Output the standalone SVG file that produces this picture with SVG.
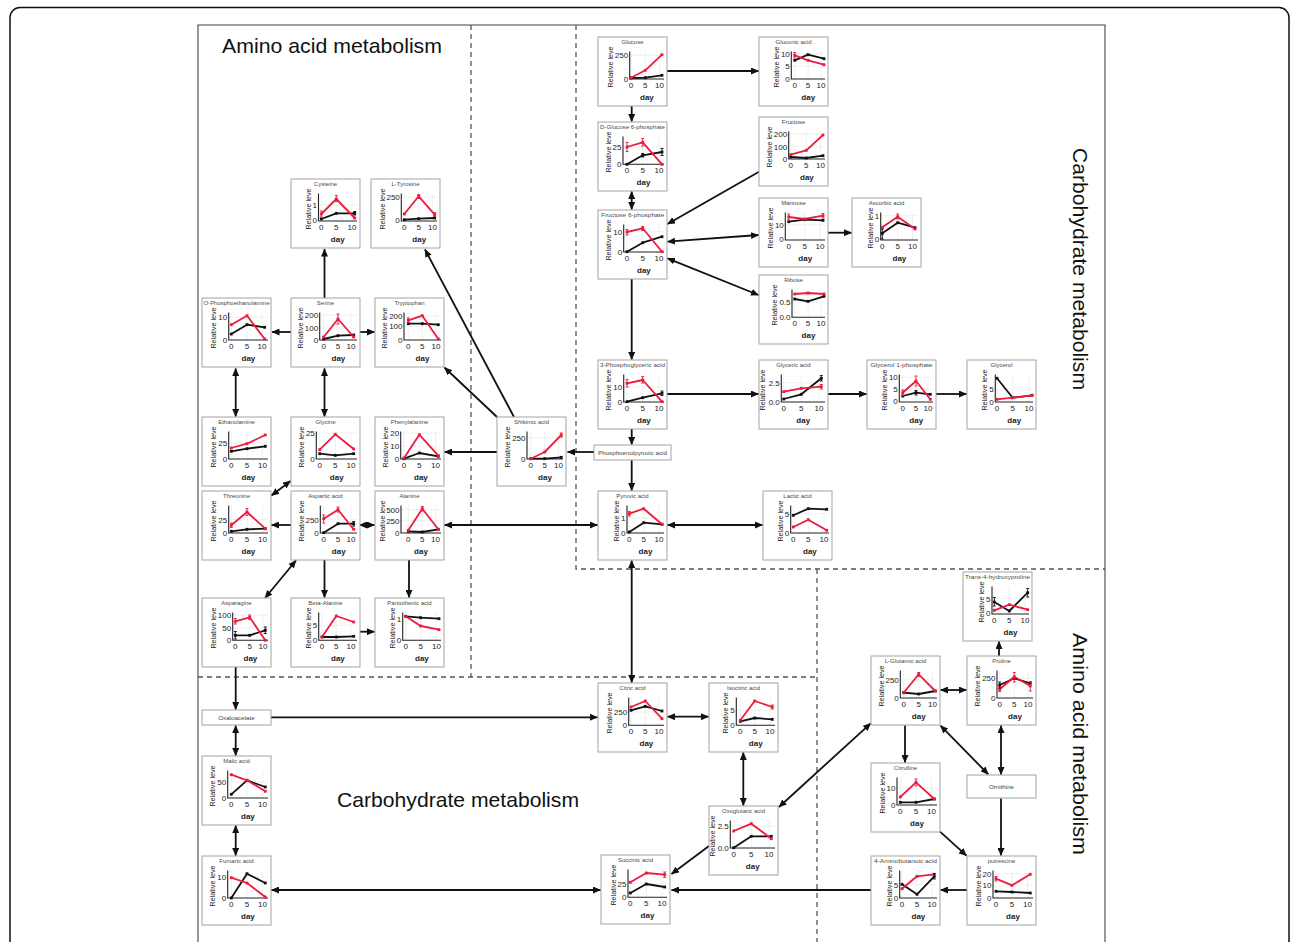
<svg xmlns="http://www.w3.org/2000/svg" width="1292" height="942" viewBox="0 0 1292 942">
<style>
.box{fill:#fff;stroke:#a3a3a3;stroke-width:1}
.t{font-family:"Liberation Sans",Arial,sans-serif;font-size:6px;fill:#4a4a4a;text-anchor:middle}
.yl{font-family:"Liberation Sans",Arial,sans-serif;font-size:7.2px;fill:#222;text-anchor:middle}
.tk{font-family:"Liberation Sans",Arial,sans-serif;font-size:8px;fill:#222}
.tx{text-anchor:middle}
.ty{text-anchor:end}
.dl{font-family:"Liberation Sans",Arial,sans-serif;font-size:8px;font-weight:bold;fill:#222;text-anchor:middle}
.ax{fill:none;stroke:#222;stroke-width:1.1}
.gr{fill:none;stroke:#ececec;stroke-width:0.8}
.r{fill:none;stroke:#ee1b3e;stroke-width:1.8;stroke-linejoin:round;marker-start:url(#pr);marker-mid:url(#pr);marker-end:url(#pr)}
.k{fill:none;stroke:#111;stroke-width:1.8;stroke-linejoin:round;marker-start:url(#pk);marker-mid:url(#pk);marker-end:url(#pk)}
.er{fill:none;stroke:#ee1b3e;stroke-width:0.9}
.ek{fill:none;stroke:#111;stroke-width:0.9}
.c{fill:none;stroke:#111;stroke-width:1.8}
.a1{marker-end:url(#ah)}
.a2{marker-start:url(#ah);marker-end:url(#ah)}
.dash{fill:none;stroke:#555;stroke-width:1.3;stroke-dasharray:5 4}
.big{font-family:"Liberation Sans",Arial,sans-serif;font-size:21px;fill:#111}
.lbl{font-family:"Liberation Sans",Arial,sans-serif;font-size:6.2px;fill:#444;text-anchor:middle}
</style>
<defs>
<marker id="pr" markerWidth="4" markerHeight="4" refX="2" refY="2" markerUnits="userSpaceOnUse"><rect x="0.6" y="0.6" width="2.8" height="2.8" fill="#ee1b3e"/></marker>
<marker id="pk" markerWidth="4" markerHeight="4" refX="2" refY="2" markerUnits="userSpaceOnUse"><rect x="0.6" y="0.6" width="2.8" height="2.8" fill="#111"/></marker>
<marker id="ah" markerWidth="8" markerHeight="7" refX="7.5" refY="3.5" orient="auto-start-reverse" markerUnits="userSpaceOnUse"><path d="M0,0 L8,3.5 L0,7 z" fill="#111"/></marker>
</defs>
<rect width="1292" height="942" fill="#fff"/>
<rect x="10" y="7.5" width="1279" height="1000" rx="10" fill="none" stroke="#111" stroke-width="1.5"/>
<path d="M198,942V25H1105V942" fill="none" stroke="#444" stroke-width="1.1"/>
<g id="regions">
<path class="dash" d="M471,25V677M198,677H817M576,25V569H1105M817,569V942"/>
<text class="big" x="222" y="53" textLength="220" lengthAdjust="spacingAndGlyphs">Amino acid metabolism</text>
<text class="big" x="337" y="807" textLength="242" lengthAdjust="spacingAndGlyphs">Carbohydrate metabolism</text>
<text class="big" transform="translate(1073,148) rotate(90)" textLength="242" lengthAdjust="spacingAndGlyphs">Carbohydrate metabolism</text>
<text class="big" transform="translate(1073,633) rotate(90)" textLength="222" lengthAdjust="spacingAndGlyphs">Amino acid metabolism</text>
</g>
<g id="connectors">
<path class="c a1" d="M324.5,298V249"/>
<path class="c a1" d="M514,417L425,249.5"/>
<path class="c a1" d="M497,417L444.5,367.5"/>
<path class="c a1" d="M291,332H272"/>
<path class="c a1" d="M359,332H374.5"/>
<path class="c a2" d="M235.7,368.5V416.5"/>
<path class="c a2" d="M324.5,368.5V416.5"/>
<path class="c a1" d="M497,452H444.5"/>
<path class="c a1" d="M594,452H567.5"/>
<path class="c a2" d="M290.5,481L271.5,495.5"/>
<path class="c a1" d="M291,525H271.5"/>
<path class="c a2" d="M359.5,525H374.5"/>
<path class="c a2" d="M444.5,525H597.5"/>
<path class="c a2" d="M265,598L296,560.5"/>
<path class="c a1" d="M324.5,560V597.5"/>
<path class="c a1" d="M409,560V597.5"/>
<path class="c a1" d="M359.5,631.7H374.5"/>
<path class="c a1" d="M235.7,667V709.5"/>
<path class="c a1" d="M271,717.3H597.5"/>
<path class="c a2" d="M235.7,725.5V755.5"/>
<path class="c a2" d="M235.7,825.5V855.5"/>
<path class="c a2" d="M271.5,890H600.5"/>
<path class="c a1" d="M667,71H758.5"/>
<path class="c a1" d="M631.7,106V121.5"/>
<path class="c a2" d="M631.7,191.5V209.5"/>
<path class="c a1" d="M759,171.7L667.5,224"/>
<path class="c a2" d="M667.5,241.7L758.5,235"/>
<path class="c a2" d="M667.5,258.3L758.5,295"/>
<path class="c a1" d="M828,232.7H851.5"/>
<path class="c a1" d="M631.7,279V359.5"/>
<path class="c a1" d="M667,394H758.5"/>
<path class="c a1" d="M828,394H866.5"/>
<path class="c a1" d="M936,394H966.5"/>
<path class="c a1" d="M631.7,429V444.5"/>
<path class="c a1" d="M631.7,460V490.5"/>
<path class="c a2" d="M667.5,525H762.5"/>
<path class="c a2" d="M631.7,560.5V682.5"/>
<path class="c a2" d="M667.5,716.7H708.5"/>
<path class="c a2" d="M743.3,752.5V805.5"/>
<path class="c a1" d="M709,846L671.5,874"/>
<path class="c a2" d="M779,807L870.7,723.3"/>
<path class="c a1" d="M871,890H671.5"/>
<path class="c a2" d="M940.5,690H966.5"/>
<path class="c a1" d="M999,656V641.5"/>
<path class="c a1" d="M905,725.5V762.5"/>
<path class="c a2" d="M940.5,725.7L988.3,774.3"/>
<path class="c a2" d="M1001,725.5V774.5"/>
<path class="c a1" d="M1001,798.5V855.5"/>
<path class="c a1" d="M940,831.7L966.5,855.7"/>
<path class="c a1" d="M967,890H940.5"/>
</g>

<g id="n-cysteine" transform="translate(291,179)"><rect class="box" width="69" height="69"/><text class="t" x="34.5" y="7">Cysteine</text><path class="gr" d="M30.3,14.5V42M45.3,14.5V42M61,14.5V42M27.5,25.7H66"/><path class="ax" d="M27.5,14.5V42H66"/><text class="tk ty" x="26" y="28.6">1</text><text class="tk ty" x="26" y="44.2">0</text><text class="tk tx" x="30.3" y="50.5">0</text><text class="tk tx" x="45.3" y="50.5">5</text><text class="tk tx" x="61" y="50.5">10</text><text class="dl" x="46.7" y="62.5">day</text><text class="yl" transform="translate(19.5,30) rotate(-90)">Relative leve</text><polyline class="k" points="30.3,40 45.3,34.3 63.7,34.3"/><polyline class="r" points="30.3,35 45.3,20 63.7,39"/><path class="er" d="M45.3,16.5V22.5M43.8,16.5h3M43.8,22.5h3M30.3,32V38M28.8,32h3M28.8,38h3"/><path class="ek" d="M63.7,32.5V36M62.2,32.5h3M62.2,36h3"/></g>

<g id="n-ltyrosine" transform="translate(371,179)"><rect class="box" width="69" height="69"/><text class="t" x="34.5" y="7">L-Tyrosine</text><path class="gr" d="M33.3,14.5V42M47.7,14.5V42M61.5,14.5V42M30.3,18.3H66"/><path class="ax" d="M30.3,14.5V42H66"/><text class="tk ty" x="28.8" y="21.2">250</text><text class="tk ty" x="28.8" y="44.2">0</text><text class="tk tx" x="33.3" y="50.5">0</text><text class="tk tx" x="47.7" y="50.5">5</text><text class="tk tx" x="61.5" y="50.5">10</text><text class="dl" x="48.2" y="62.5">day</text><text class="yl" transform="translate(13.5,30) rotate(-90)">Relative leve</text><polyline class="k" points="33.3,40.7 47.7,39.7 63.7,39"/><polyline class="r" points="33.3,35 47.7,17.3 63.7,35.7"/><path class="er" d="M47.7,15.5V19.5M46.2,15.5h3M46.2,19.5h3M63.7,33.5V37.5M62.2,33.5h3M62.2,37.5h3"/></g>

<g id="n-ophosphoethanolamine" transform="translate(202,298)"><rect class="box" width="69" height="69"/><text class="t" x="34.5" y="7" textLength="66" lengthAdjust="spacingAndGlyphs">O-Phosphoethanolamine</text><path class="gr" d="M29.3,14.5V42M45,14.5V42M60,14.5V42M26.7,19.3H66"/><path class="ax" d="M26.7,14.5V42H66"/><text class="tk ty" x="25.2" y="22.2">10</text><text class="tk ty" x="25.2" y="44.6">0</text><text class="tk tx" x="29.3" y="50.5">0</text><text class="tk tx" x="45" y="50.5">5</text><text class="tk tx" x="60" y="50.5">10</text><text class="dl" x="46.4" y="62.5">day</text><text class="yl" transform="translate(14.3,30) rotate(-90)">Relative leve</text><polyline class="k" points="29.3,36 45,26.7 62.7,29.3"/><polyline class="r" points="29.3,26.7 45,17.7 62.7,41"/></g>

<g id="n-serine" transform="translate(291,298)"><rect class="box" width="69" height="69"/><text class="t" x="34.5" y="7">Serine</text><path class="gr" d="M32.7,14.5V42M47,14.5V42M60,14.5V42M28.7,17.3H66M28.7,30H66"/><path class="ax" d="M28.7,14.5V42H66"/><text class="tk ty" x="27.2" y="20.2">200</text><text class="tk ty" x="27.2" y="32.9">100</text><text class="tk ty" x="27.2" y="44.6">0</text><text class="tk tx" x="32.7" y="50.5">0</text><text class="tk tx" x="47" y="50.5">5</text><text class="tk tx" x="60" y="50.5">10</text><text class="dl" x="47.4" y="62.5">day</text><text class="yl" transform="translate(11.9,30) rotate(-90)">Relative leve</text><polyline class="k" points="32.7,41 47,37.7 62.7,37"/><polyline class="r" points="32.7,39 47,21 62.7,39"/><path class="er" d="M47,16V26M45.5,16h3M45.5,26h3"/></g>

<g id="n-tryptophan" transform="translate(375,298)"><rect class="box" width="69" height="69"/><text class="t" x="34.5" y="7">Tryptophan</text><path class="gr" d="M33.3,14.5V42M47.3,14.5V42M61,14.5V42M29,18.3H66M29,28.3H66"/><path class="ax" d="M29,14.5V42H66"/><text class="tk ty" x="27.5" y="21.2">200</text><text class="tk ty" x="27.5" y="31.2">100</text><text class="tk ty" x="27.5" y="44.6">0</text><text class="tk tx" x="33.3" y="50.5">0</text><text class="tk tx" x="47.3" y="50.5">5</text><text class="tk tx" x="61" y="50.5">10</text><text class="dl" x="47.5" y="62.5">day</text><text class="yl" transform="translate(12.2,30) rotate(-90)">Relative leve</text><polyline class="k" points="33.3,25.7 47.3,25.7 63.3,26.7"/><polyline class="r" points="33.3,22.3 47.3,17.7 63.3,41"/><path class="er" d="M33.3,20V24.5M31.8,20h3M31.8,24.5h3"/></g>

<g id="n-ethanolamine" transform="translate(202,417)"><rect class="box" width="69" height="69"/><text class="t" x="34.5" y="7">Ethanolamine</text><path class="gr" d="M29.3,14.5V42M45,14.5V42M60.5,14.5V42M26.7,26H66"/><path class="ax" d="M26.7,14.5V42H66"/><text class="tk ty" x="25.2" y="28.9">25</text><text class="tk ty" x="25.2" y="44.6">0</text><text class="tk tx" x="29.3" y="50.5">0</text><text class="tk tx" x="45" y="50.5">5</text><text class="tk tx" x="60.5" y="50.5">10</text><text class="dl" x="46.4" y="62.5">day</text><text class="yl" transform="translate(14.3,30) rotate(-90)">Relative leve</text><polyline class="k" points="29.3,34.3 45,31.7 63.3,29.3"/><polyline class="r" points="29.3,31 45,26.7 63.3,18"/></g>

<g id="n-glycine" transform="translate(291,417)"><rect class="box" width="69" height="69"/><text class="t" x="34.5" y="7">Glycine</text><path class="gr" d="M28.7,14.5V42M44.3,14.5V42M60,14.5V42M25.3,16H66"/><path class="ax" d="M25.3,14.5V42H66"/><text class="tk ty" x="23.8" y="18.9">25</text><text class="tk ty" x="23.8" y="44.6">0</text><text class="tk tx" x="28.7" y="50.5">0</text><text class="tk tx" x="44.3" y="50.5">5</text><text class="tk tx" x="60" y="50.5">10</text><text class="dl" x="45.7" y="62.5">day</text><text class="yl" transform="translate(12.9,30) rotate(-90)">Relative leve</text><polyline class="k" points="28.7,36.7 44.3,38.3 62.7,36.7"/><polyline class="r" points="28.7,32.7 44.3,17.3 62.7,32"/></g>

<g id="n-phenylalanine" transform="translate(375,417)"><rect class="box" width="69" height="69"/><text class="t" x="34.5" y="7">Phenylalanine</text><path class="gr" d="M29,14.5V42M44.3,14.5V42M60.5,14.5V42M25.7,16H66M25.7,29.3H66"/><path class="ax" d="M25.7,14.5V42H66"/><text class="tk ty" x="24.2" y="18.9">20</text><text class="tk ty" x="24.2" y="32.2">10</text><text class="tk ty" x="24.2" y="44.6">0</text><text class="tk tx" x="29" y="50.5">0</text><text class="tk tx" x="44.3" y="50.5">5</text><text class="tk tx" x="60.5" y="50.5">10</text><text class="dl" x="45.9" y="62.5">day</text><text class="yl" transform="translate(13.3,30) rotate(-90)">Relative leve</text><polyline class="k" points="29,41.7 44.3,36 63.3,39.3"/><polyline class="r" points="29,41 44.3,17.7 63.3,38.7"/></g>

<g id="n-shikimic" transform="translate(497,417)"><rect class="box" width="69" height="69"/><text class="t" x="34.5" y="7">Shikimic acid</text><path class="gr" d="M33.7,14.5V42M47.7,14.5V42M61.5,14.5V42M30,21H66"/><path class="ax" d="M30,14.5V42H66"/><text class="tk ty" x="28.5" y="23.9">250</text><text class="tk ty" x="28.5" y="44.6">0</text><text class="tk tx" x="33.7" y="50.5">0</text><text class="tk tx" x="47.7" y="50.5">5</text><text class="tk tx" x="61.5" y="50.5">10</text><text class="dl" x="48" y="62.5">day</text><text class="yl" transform="translate(13.2,30) rotate(-90)">Relative leve</text><polyline class="k" points="33.7,41.7 47.7,41.7 64.3,40.3"/><polyline class="r" points="33.7,41.7 47.7,35 64.3,18"/><path class="er" d="M64.3,16V20M62.8,16h3M62.8,20h3"/></g>

<g id="n-threonine" transform="translate(202,491)"><rect class="box" width="69" height="69"/><text class="t" x="34.5" y="7">Threonine</text><path class="gr" d="M29.3,14.5V42M45,14.5V42M60.5,14.5V42M26.7,28.7H66"/><path class="ax" d="M26.7,14.5V42H66"/><text class="tk ty" x="25.2" y="31.6">25</text><text class="tk ty" x="25.2" y="44.6">0</text><text class="tk tx" x="29.3" y="50.5">0</text><text class="tk tx" x="45" y="50.5">5</text><text class="tk tx" x="60.5" y="50.5">10</text><text class="dl" x="46.4" y="62.5">day</text><text class="yl" transform="translate(14.3,30) rotate(-90)">Relative leve</text><polyline class="k" points="29.3,40.3 45,38.3 63.3,37.7"/><polyline class="r" points="29.3,34.3 45,21 63.3,37.7"/><path class="er" d="M45,17.5V24.5M43.5,17.5h3M43.5,24.5h3M29.3,32V36.5M27.8,32h3M27.8,36.5h3"/></g>

<g id="n-aspartic" transform="translate(291,491)"><rect class="box" width="69" height="69"/><text class="t" x="34.5" y="7">Aspartic acid</text><path class="gr" d="M32.7,14.5V42M47,14.5V42M60,14.5V42M29.3,28.7H66"/><path class="ax" d="M29.3,14.5V42H66"/><text class="tk ty" x="27.8" y="31.6">250</text><text class="tk ty" x="27.8" y="44.6">0</text><text class="tk tx" x="32.7" y="50.5">0</text><text class="tk tx" x="47" y="50.5">5</text><text class="tk tx" x="60" y="50.5">10</text><text class="dl" x="47.7" y="62.5">day</text><text class="yl" transform="translate(12.5,30) rotate(-90)">Relative leve</text><polyline class="k" points="32.7,41.7 47,32.7 62.7,32.7"/><polyline class="r" points="32.7,27.7 47,18.7 62.7,38.3"/><path class="er" d="M32.7,24V32M31.2,24h3M31.2,32h3M47,16V21M45.5,16h3M45.5,21h3"/><path class="ek" d="M62.7,30.5V35M61.2,30.5h3M61.2,35h3"/></g>

<g id="n-alanine" transform="translate(375,491)"><rect class="box" width="69" height="69"/><text class="t" x="34.5" y="7">Alanine</text><path class="gr" d="M33.3,14.5V42M47.3,14.5V42M60.5,14.5V42M26,18.7H66M26,29.7H66"/><path class="ax" d="M26,14.5V42H66"/><text class="tk ty" x="24.5" y="21.6">500</text><text class="tk ty" x="24.5" y="32.6">250</text><text class="tk ty" x="24.5" y="44.6">0</text><text class="tk tx" x="33.3" y="50.5">0</text><text class="tk tx" x="47.3" y="50.5">5</text><text class="tk tx" x="60.5" y="50.5">10</text><text class="dl" x="46" y="62.5">day</text><text class="yl" transform="translate(9.5,30) rotate(-90)">Relative leve</text><polyline class="k" points="33.3,40.3 47.3,41 63.3,38.3"/><polyline class="r" points="33.3,39.3 47.3,17.7 63.3,38.3"/><path class="er" d="M47.3,15.5V20M45.8,15.5h3M45.8,20h3"/></g>

<g id="n-asparagine" transform="translate(202,598)"><rect class="box" width="69" height="69"/><text class="t" x="34.5" y="7">Asparagine</text><path class="gr" d="M33.3,14.5V42M47.7,14.5V42M61,14.5V42M30.7,17.3H66M30.7,30H66"/><path class="ax" d="M30.7,14.5V42.3H66"/><text class="tk ty" x="29.2" y="20.2">100</text><text class="tk ty" x="29.2" y="32.9">50</text><text class="tk ty" x="29.2" y="45.2">0</text><text class="tk tx" x="33.3" y="50.8">0</text><text class="tk tx" x="47.7" y="50.8">5</text><text class="tk tx" x="61" y="50.8">10</text><text class="dl" x="48.4" y="62.8">day</text><text class="yl" transform="translate(13.9,30) rotate(-90)">Relative leve</text><polyline class="k" points="33.3,37.3 47.7,37.3 63.3,32.3"/><polyline class="r" points="33.3,23.3 47.7,19.3 63.3,42.3"/><path class="er" d="M33.3,20.5V26M31.8,20.5h3M31.8,26h3M47.7,17V21.5M46.2,17h3M46.2,21.5h3"/><path class="ek" d="M33.3,33.5V41M31.8,33.5h3M31.8,41h3M63.3,29V35.5M61.8,29h3M61.8,35.5h3"/></g>

<g id="n-betaalanine" transform="translate(291,598)"><rect class="box" width="69" height="69"/><text class="t" x="34.5" y="7">Beta-Alanine</text><path class="gr" d="M31,14.5V42M45.3,14.5V42M60,14.5V42M27.7,27.3H66"/><path class="ax" d="M27.7,14.5V42.3H66"/><text class="tk ty" x="26.2" y="30.2">5</text><text class="tk ty" x="26.2" y="45.2">0</text><text class="tk tx" x="31" y="50.8">0</text><text class="tk tx" x="45.3" y="50.8">5</text><text class="tk tx" x="60" y="50.8">10</text><text class="dl" x="46.9" y="62.8">day</text><text class="yl" transform="translate(19.7,30) rotate(-90)">Relative leve</text><polyline class="k" points="31,39 45.3,39 62.7,38.3"/><polyline class="r" points="31,39 45.3,18 62.7,24"/></g>

<g id="n-pantothenic" transform="translate(375,598)"><rect class="box" width="69" height="69"/><text class="t" x="34.5" y="7">Pantothenic acid</text><path class="gr" d="M30.7,14.5V42M45.7,14.5V42M61.5,14.5V42M27.7,21H66"/><path class="ax" d="M27.7,14.5V42.3H66"/><text class="tk ty" x="26.2" y="23.9">1</text><text class="tk ty" x="26.2" y="45.2">0</text><text class="tk tx" x="30.7" y="50.8">0</text><text class="tk tx" x="45.7" y="50.8">5</text><text class="tk tx" x="61.5" y="50.8">10</text><text class="dl" x="46.9" y="62.8">day</text><text class="yl" transform="translate(19.7,30) rotate(-90)">Relative leve</text><polyline class="k" points="30.7,18.3 45.7,19.7 64,20.7"/><polyline class="r" points="30.7,18.3 45.7,28 64,31.7"/></g>

<g id="n-oxaloacetate" transform="translate(202,710)"><rect class="box" width="69" height="15"/><text class="lbl" x="34.5" y="9.8">Oxaloacetate</text></g>

<g id="n-malic" transform="translate(202,756)"><rect class="box" width="69" height="69"/><text class="t" x="34.5" y="7">Malic acid</text><path class="gr" d="M29.3,14.5V42M45,14.5V42M60.5,14.5V42M25.7,26H66"/><path class="ax" d="M25.7,14.5V42H66"/><text class="tk ty" x="24.2" y="28.9">50</text><text class="tk ty" x="24.2" y="44.6">0</text><text class="tk tx" x="29.3" y="50.5">0</text><text class="tk tx" x="45" y="50.5">5</text><text class="tk tx" x="60.5" y="50.5">10</text><text class="dl" x="45.9" y="62.5">day</text><text class="yl" transform="translate(13.3,30) rotate(-90)">Relative leve</text><polyline class="k" points="29.3,38.3 45,24.3 63.3,31"/><polyline class="r" points="29.3,18.7 45,24.3 63.3,35.3"/></g>

<g id="n-fumaric" transform="translate(202,856)"><rect class="box" width="69" height="69"/><text class="t" x="34.5" y="7">Fumaric acid</text><path class="gr" d="M29.3,14.5V42M45,14.5V42M60.5,14.5V42M25.7,21H66"/><path class="ax" d="M25.7,14.5V42H66"/><text class="tk ty" x="24.2" y="23.9">10</text><text class="tk ty" x="24.2" y="44.9">0</text><text class="tk tx" x="29.3" y="50.5">0</text><text class="tk tx" x="45" y="50.5">5</text><text class="tk tx" x="60.5" y="50.5">10</text><text class="dl" x="45.9" y="62.5">day</text><text class="yl" transform="translate(13.3,30) rotate(-90)">Relative leve</text><polyline class="k" points="29.3,42 45,17.7 63.3,27"/><polyline class="r" points="29.3,21.7 45,27 63.3,41"/></g>

<g id="n-glucose" transform="translate(598,37)"><rect class="box" width="69" height="69"/><text class="t" x="34.5" y="7">Glucose</text><path class="gr" d="M33,14.5V42M47.3,14.5V42M61.5,14.5V42M31.7,18.3H66"/><path class="ax" d="M31.7,14.5V42H66"/><text class="tk ty" x="30.2" y="21.2">250</text><text class="tk ty" x="30.2" y="44.6">0</text><text class="tk tx" x="33" y="50.5">0</text><text class="tk tx" x="47.3" y="50.5">5</text><text class="tk tx" x="61.5" y="50.5">10</text><text class="dl" x="48.9" y="62.5">day</text><text class="yl" transform="translate(14.9,30) rotate(-90)">Relative leve</text><polyline class="k" points="33,41 47.3,40.7 64,38.3"/><polyline class="r" points="33,40.7 47.3,33.3 64,17.7"/></g>

<g id="n-gluconic" transform="translate(759,37)"><rect class="box" width="69" height="69"/><text class="t" x="34.5" y="7">Gluconic acid</text><path class="gr" d="M35.7,14.5V42M49,14.5V42M62,14.5V42M32.3,16.7H66M32.3,29.3H66"/><path class="ax" d="M32.3,14.5V42H66"/><text class="tk ty" x="30.8" y="19.6">10</text><text class="tk ty" x="30.8" y="32.2">5</text><text class="tk ty" x="30.8" y="44.6">0</text><text class="tk tx" x="35.7" y="50.5">0</text><text class="tk tx" x="49" y="50.5">5</text><text class="tk tx" x="62" y="50.5">10</text><text class="dl" x="49.2" y="62.5">day</text><text class="yl" transform="translate(19.9,30) rotate(-90)">Relative leve</text><polyline class="k" points="35.7,23.3 49,17.7 65,21.7"/><polyline class="r" points="35.7,18.3 49,23.3 65,27.7"/><path class="er" d="M35.7,15.5V21M34.2,15.5h3M34.2,21h3"/></g>

<g id="n-dglucose6p" transform="translate(598,122)"><rect class="box" width="69" height="69"/><text class="t" x="34.5" y="7" textLength="65" lengthAdjust="spacingAndGlyphs">D-Glucose 6-phosphate</text><path class="gr" d="M29,14.5V42M44.7,14.5V42M61,14.5V42M25,25H66"/><path class="ax" d="M25,14.5V42.3H66"/><text class="tk ty" x="23.5" y="27.9">25</text><text class="tk ty" x="23.5" y="45.2">0</text><text class="tk tx" x="29" y="50.8">0</text><text class="tk tx" x="44.7" y="50.8">5</text><text class="tk tx" x="61" y="50.8">10</text><text class="dl" x="45.5" y="62.8">day</text><text class="yl" transform="translate(12.6,30) rotate(-90)">Relative leve</text><polyline class="k" points="29,42.3 44.7,33.3 64,30"/><polyline class="r" points="29,25 44.7,20.3 64,42.3"/><path class="er" d="M29,20.5V29.5M27.5,20.5h3M27.5,29.5h3M44.7,16.5V24M43.2,16.5h3M43.2,24h3"/><path class="ek" d="M64,26.5V33.5M62.5,26.5h3M62.5,33.5h3M44.7,31.5V35M43.2,31.5h3M43.2,35h3"/></g>

<g id="n-fructose" transform="translate(759,117)"><rect class="box" width="69" height="69"/><text class="t" x="34.5" y="7">Fructose</text><path class="gr" d="M31.7,14.5V42M47.3,14.5V42M61.5,14.5V42M29.7,17H66M29.7,29.7H66"/><path class="ax" d="M29.7,14.5V42H66"/><text class="tk ty" x="28.2" y="19.9">200</text><text class="tk ty" x="28.2" y="32.6">100</text><text class="tk ty" x="28.2" y="44.9">0</text><text class="tk tx" x="31.7" y="50.5">0</text><text class="tk tx" x="47.3" y="50.5">5</text><text class="tk tx" x="61.5" y="50.5">10</text><text class="dl" x="47.9" y="62.5">day</text><text class="yl" transform="translate(12.9,30) rotate(-90)">Relative leve</text><polyline class="k" points="31.7,40 47.3,41 64,38.7"/><polyline class="r" points="31.7,37.7 47.3,33.3 64,18"/></g>

<g id="n-fructose6p" transform="translate(598,210)"><rect class="box" width="69" height="69"/><text class="t" x="34.5" y="7" textLength="63" lengthAdjust="spacingAndGlyphs">Fructose 6-phosphate</text><path class="gr" d="M29,14.5V42M44.7,14.5V42M61,14.5V42M25.7,21.7H66"/><path class="ax" d="M25.7,14.5V42H66"/><text class="tk ty" x="24.2" y="24.6">10</text><text class="tk ty" x="24.2" y="44.6">0</text><text class="tk tx" x="29" y="50.5">0</text><text class="tk tx" x="44.7" y="50.5">5</text><text class="tk tx" x="61" y="50.5">10</text><text class="dl" x="45.9" y="62.5">day</text><text class="yl" transform="translate(13.3,30) rotate(-90)">Relative leve</text><polyline class="k" points="29,41.7 44.7,32.7 64,26.7"/><polyline class="r" points="29,22 44.7,18.3 64,41.7"/><path class="er" d="M29,19.5V25M27.5,19.5h3M27.5,25h3M44.7,16.5V20.5M43.2,16.5h3M43.2,20.5h3"/></g>

<g id="n-mannose" transform="translate(759,198)"><rect class="box" width="69" height="69"/><text class="t" x="34.5" y="7">Mannose</text><path class="gr" d="M29.7,14.5V42M45.7,14.5V42M61,14.5V42M26.3,26.7H66"/><path class="ax" d="M26.3,14.5V42H66"/><text class="tk ty" x="24.8" y="29.6">10</text><text class="tk ty" x="24.8" y="43.6">0</text><text class="tk tx" x="29.7" y="50.5">0</text><text class="tk tx" x="45.7" y="50.5">5</text><text class="tk tx" x="61" y="50.5">10</text><text class="dl" x="46.2" y="62.5">day</text><text class="yl" transform="translate(13.9,30) rotate(-90)">Relative leve</text><polyline class="k" points="29.7,23.7 45.7,21.7 64,22.3"/><polyline class="r" points="29.7,19 45.7,21 64,17.7"/><path class="er" d="M29.7,16V22M28.2,16h3M28.2,22h3M64,15.5V20M62.5,15.5h3M62.5,20h3"/></g>

<g id="n-ascorbic" transform="translate(852,198)"><rect class="box" width="69" height="69"/><text class="t" x="34.5" y="7">Ascorbic acid</text><path class="gr" d="M30.3,14.5V42M45.7,14.5V42M60.5,14.5V42M28.7,17.7H66"/><path class="ax" d="M28.7,14.5V42H66"/><text class="tk ty" x="27.2" y="20.6">1</text><text class="tk ty" x="27.2" y="44.2">0</text><text class="tk tx" x="30.3" y="50.5">0</text><text class="tk tx" x="45.7" y="50.5">5</text><text class="tk tx" x="60.5" y="50.5">10</text><text class="dl" x="47.4" y="62.5">day</text><text class="yl" transform="translate(20.7,30) rotate(-90)">Relative leve</text><polyline class="k" points="30.3,35.3 45.7,24.7 63,29.7"/><polyline class="r" points="30.3,29.3 45.7,18.7 63,31"/><path class="er" d="M45.7,16V21M44.2,16h3M44.2,21h3"/><path class="ek" d="M30.3,31V41M28.8,31h3M28.8,41h3"/></g>

<g id="n-ribose" transform="translate(759,275)"><rect class="box" width="69" height="69"/><text class="t" x="34.5" y="7">Ribose</text><path class="gr" d="M35.7,14.5V42M49,14.5V42M62,14.5V42M33,27.3H66"/><path class="ax" d="M33,14.5V42.3H66"/><text class="tk ty" x="31.5" y="30.2">0.5</text><text class="tk ty" x="31.5" y="45.2">0.0</text><text class="tk tx" x="35.7" y="50.8">0</text><text class="tk tx" x="49" y="50.8">5</text><text class="tk tx" x="62" y="50.8">10</text><text class="dl" x="49.5" y="62.8">day</text><text class="yl" transform="translate(18.4,30) rotate(-90)">Relative leve</text><polyline class="k" points="35.7,24 49,26.3 65,21.3"/><polyline class="r" points="35.7,19 49,18 65,19"/></g>

<g id="n-3pga" transform="translate(598,360)"><rect class="box" width="69" height="69"/><text class="t" x="34.5" y="7" textLength="65" lengthAdjust="spacingAndGlyphs">3-Phosphoglyceric acid</text><path class="gr" d="M29,14.5V42M44.7,14.5V42M61,14.5V42M25.7,26.7H66"/><path class="ax" d="M25.7,14.5V42H66"/><text class="tk ty" x="24.2" y="29.6">10</text><text class="tk ty" x="24.2" y="44.6">0</text><text class="tk tx" x="29" y="50.5">0</text><text class="tk tx" x="44.7" y="50.5">5</text><text class="tk tx" x="61" y="50.5">10</text><text class="dl" x="45.9" y="62.5">day</text><text class="yl" transform="translate(13.3,30) rotate(-90)">Relative leve</text><polyline class="k" points="29,41.7 44.7,37.7 64,33.3"/><polyline class="r" points="29,23.3 44.7,20 64,41.7"/><path class="er" d="M29,19.5V27M27.5,19.5h3M27.5,27h3M44.7,16.5V23M43.2,16.5h3M43.2,23h3"/><path class="ek" d="M64,31V35.5M62.5,31h3M62.5,35.5h3"/></g>

<g id="n-glyceric" transform="translate(759,360)"><rect class="box" width="69" height="69"/><text class="t" x="34.5" y="7">Glyceric acid</text><path class="gr" d="M24.7,14.5V42M42.3,14.5V42M60,14.5V42M22.3,22.7H66"/><path class="ax" d="M22.3,14.5V42H66"/><text class="tk ty" x="20.8" y="25.6">2.5</text><text class="tk ty" x="20.8" y="44.6">0.0</text><text class="tk tx" x="24.7" y="50.5">0</text><text class="tk tx" x="42.3" y="50.5">5</text><text class="tk tx" x="60" y="50.5">10</text><text class="dl" x="44.2" y="62.5">day</text><text class="yl" transform="translate(6,30) rotate(-90)">Relative leve</text><polyline class="k" points="24.7,39 42.3,34.3 62.3,18.3"/><polyline class="r" points="24.7,31.7 42.3,28.3 62.3,26.7"/><path class="ek" d="M62.3,15.5V21M60.8,15.5h3M60.8,21h3"/><path class="er" d="M62.3,24.5V29M60.8,24.5h3M60.8,29h3"/></g>

<g id="n-glycerol1p" transform="translate(867,360)"><rect class="box" width="69" height="69"/><text class="t" x="34.5" y="7" textLength="62" lengthAdjust="spacingAndGlyphs">Glycerol 1-phosphate</text><path class="gr" d="M35.7,14.5V42M49,14.5V42M61,14.5V42M32.3,17.3H66M32.3,29.3H66"/><path class="ax" d="M32.3,14.5V42H66"/><text class="tk ty" x="30.8" y="20.2">10</text><text class="tk ty" x="30.8" y="32.2">5</text><text class="tk ty" x="30.8" y="43.9">0</text><text class="tk tx" x="35.7" y="50.5">0</text><text class="tk tx" x="49" y="50.5">5</text><text class="tk tx" x="61" y="50.5">10</text><text class="dl" x="49.2" y="62.5">day</text><text class="yl" transform="translate(19.9,30) rotate(-90)">Relative leve</text><polyline class="k" points="35.7,36 49,32.7 63.3,34.3"/><polyline class="r" points="35.7,32.7 49,21 63.3,39.3"/><path class="er" d="M49,16V26M47.5,16h3M47.5,26h3M35.7,30V35.5M34.2,30h3M34.2,35.5h3"/><path class="ek" d="M49,30.5V35M47.5,30.5h3M47.5,35h3"/></g>

<g id="n-glycerol" transform="translate(967,360)"><rect class="box" width="69" height="69"/><text class="t" x="34.5" y="7">Glycerol</text><path class="gr" d="M30,14.5V42M45.7,14.5V42M62,14.5V42M28.3,29.3H66"/><path class="ax" d="M28.3,14.5V42H66"/><text class="tk ty" x="26.8" y="32.2">5</text><text class="tk ty" x="26.8" y="44.6">0</text><text class="tk tx" x="30" y="50.5">0</text><text class="tk tx" x="45.7" y="50.5">5</text><text class="tk tx" x="62" y="50.5">10</text><text class="dl" x="47.2" y="62.5">day</text><text class="yl" transform="translate(20.3,30) rotate(-90)">Relative leve</text><polyline class="k" points="30,18.3 45.7,37.7 65,35.3"/><polyline class="r" points="30,39.3 45.7,37.7 65,35.3"/></g>

<g id="n-pep" transform="translate(594,445)"><rect class="box" width="77" height="15"/><text class="lbl" x="38.5" y="9.8">Phosphoenolpyruvic acid</text></g>

<g id="n-pyruvic" transform="translate(598,491)"><rect class="box" width="69" height="69"/><text class="t" x="34.5" y="7">Pyruvic acid</text><path class="gr" d="M31.3,14.5V42M45.7,14.5V42M61,14.5V42M29,27H66"/><path class="ax" d="M29,14.5V42H66"/><text class="tk ty" x="27.5" y="29.9">1</text><text class="tk ty" x="27.5" y="44.9">0</text><text class="tk tx" x="31.3" y="50.5">0</text><text class="tk tx" x="45.7" y="50.5">5</text><text class="tk tx" x="61" y="50.5">10</text><text class="dl" x="47.5" y="62.5">day</text><text class="yl" transform="translate(21,30) rotate(-90)">Relative leve</text><polyline class="k" points="31.3,41 45.7,31.7 64,33.3"/><polyline class="r" points="31.3,22.7 45.7,17.7 64,33.3"/><path class="er" d="M31.3,20.5V25M29.8,20.5h3M29.8,25h3"/></g>

<g id="n-lactic" transform="translate(763,491)"><rect class="box" width="69" height="69"/><text class="t" x="34.5" y="7">Lactic acid</text><path class="gr" d="M30.3,14.5V42M45.3,14.5V42M61,14.5V42M27.7,22.7H66"/><path class="ax" d="M27.7,14.5V42H66"/><text class="tk ty" x="26.2" y="25.6">5</text><text class="tk ty" x="26.2" y="44.9">0</text><text class="tk tx" x="30.3" y="50.5">0</text><text class="tk tx" x="45.3" y="50.5">5</text><text class="tk tx" x="61" y="50.5">10</text><text class="dl" x="46.9" y="62.5">day</text><text class="yl" transform="translate(19.7,30) rotate(-90)">Relative leve</text><polyline class="k" points="30.3,24.3 45.3,17.7 63.7,18.3"/><polyline class="r" points="30.3,36 45.3,28.7 63.7,39.3"/></g>

<g id="n-citric" transform="translate(598,683)"><rect class="box" width="69" height="69"/><text class="t" x="34.5" y="7">Citric acid</text><path class="gr" d="M33,14.5V42M47.3,14.5V42M61,14.5V42M30.7,29H66"/><path class="ax" d="M30.7,14.5V42.3H66"/><text class="tk ty" x="29.2" y="31.9">250</text><text class="tk ty" x="29.2" y="45.2">0</text><text class="tk tx" x="33" y="50.8">0</text><text class="tk tx" x="47.3" y="50.8">5</text><text class="tk tx" x="61" y="50.8">10</text><text class="dl" x="48.4" y="62.8">day</text><text class="yl" transform="translate(13.9,30) rotate(-90)">Relative leve</text><polyline class="k" points="33,27.3 47.3,23.3 64,28"/><polyline class="r" points="33,24 47.3,18 64,35.7"/></g>

<g id="n-isocitric" transform="translate(709,683)"><rect class="box" width="69" height="69"/><text class="t" x="34.5" y="7">Isocitric acid</text><path class="gr" d="M31.3,14.5V42M45.7,14.5V42M61,14.5V42M27.3,27.3H66"/><path class="ax" d="M27.3,14.5V42.3H66"/><text class="tk ty" x="25.8" y="30.2">5</text><text class="tk ty" x="25.8" y="45.2">0</text><text class="tk tx" x="31.3" y="50.8">0</text><text class="tk tx" x="45.7" y="50.8">5</text><text class="tk tx" x="61" y="50.8">10</text><text class="dl" x="46.7" y="62.8">day</text><text class="yl" transform="translate(19.3,30) rotate(-90)">Relative leve</text><polyline class="k" points="31.3,38.3 45.7,35 63.3,36.3"/><polyline class="r" points="31.3,37.3 45.7,18 63.3,24"/><path class="er" d="M63.3,22V26M61.8,22h3M61.8,26h3"/></g>

<g id="n-oxoglutaric" transform="translate(709,806)"><rect class="box" width="69" height="69"/><text class="t" x="34.5" y="7">Oxoglutaric acid</text><path class="gr" d="M24.7,14.5V42M42.3,14.5V42M60,14.5V42M21.3,20H66"/><path class="ax" d="M21.3,14.5V42H66"/><text class="tk ty" x="19.8" y="22.9">2.5</text><text class="tk ty" x="19.8" y="44.6">0.0</text><text class="tk tx" x="24.7" y="50.5">0</text><text class="tk tx" x="42.3" y="50.5">5</text><text class="tk tx" x="60" y="50.5">10</text><text class="dl" x="43.7" y="62.5">day</text><text class="yl" transform="translate(5.5,30) rotate(-90)">Relative leve</text><polyline class="k" points="24.7,41.7 42.3,30.3 62.3,30.3"/><polyline class="r" points="24.7,25 42.3,17.7 62.3,32.7"/></g>

<g id="n-succinic" transform="translate(601,855)"><rect class="box" width="69" height="69"/><text class="t" x="34.5" y="7">Succinic acid</text><path class="gr" d="M29.3,14.5V42M45.3,14.5V42M61,14.5V42M27,28.7H66"/><path class="ax" d="M27,14.5V42.3H66"/><text class="tk ty" x="25.5" y="31.6">25</text><text class="tk ty" x="25.5" y="45.2">0</text><text class="tk tx" x="29.3" y="50.8">0</text><text class="tk tx" x="45.3" y="50.8">5</text><text class="tk tx" x="61" y="50.8">10</text><text class="dl" x="46.5" y="62.8">day</text><text class="yl" transform="translate(14.6,30) rotate(-90)">Relative leve</text><polyline class="k" points="29.3,38 45.3,29 63.7,32"/><polyline class="r" points="29.3,27.3 45.3,18 63.7,19.7"/><path class="er" d="M63.7,17V22.5M62.2,17h3M62.2,22.5h3"/></g>

<g id="n-trans4hyp" transform="translate(963,572)"><rect class="box" width="69" height="69"/><text class="t" x="34.5" y="7" textLength="65" lengthAdjust="spacingAndGlyphs">Trans-4-hydroxyproline</text><path class="gr" d="M31.3,14.5V42M46.3,14.5V42M62,14.5V42M29,26.7H66"/><path class="ax" d="M29,14.5V42H66"/><text class="tk ty" x="27.5" y="29.6">5</text><text class="tk ty" x="27.5" y="43.9">0</text><text class="tk tx" x="31.3" y="50.5">0</text><text class="tk tx" x="46.3" y="50.5">5</text><text class="tk tx" x="62" y="50.5">10</text><text class="dl" x="47.5" y="62.5">day</text><text class="yl" transform="translate(21,30) rotate(-90)">Relative leve</text><polyline class="k" points="31.3,30 46.3,39 64.7,20.7"/><polyline class="r" points="31.3,38.3 46.3,32.7 64.7,37.7"/><path class="ek" d="M31.3,25.5V34M29.8,25.5h3M29.8,34h3M64.7,16.5V25M63.2,16.5h3M63.2,25h3"/></g>

<g id="n-lglutamic" transform="translate(871,656)"><rect class="box" width="69" height="69"/><text class="t" x="34.5" y="7">L-Glutamic acid</text><path class="gr" d="M32.7,14.5V42M47.7,14.5V42M61.5,14.5V42M29.3,24H66"/><path class="ax" d="M29.3,14.5V42H66"/><text class="tk ty" x="27.8" y="26.9">250</text><text class="tk ty" x="27.8" y="44.6">0</text><text class="tk tx" x="32.7" y="50.5">0</text><text class="tk tx" x="47.7" y="50.5">5</text><text class="tk tx" x="61.5" y="50.5">10</text><text class="dl" x="47.7" y="62.5">day</text><text class="yl" transform="translate(12.5,30) rotate(-90)">Relative leve</text><polyline class="k" points="32.7,36.7 47.7,38 64.3,35"/><polyline class="r" points="32.7,36.7 47.7,18.3 64.3,35"/><path class="er" d="M47.7,16.5V20.5M46.2,16.5h3M46.2,20.5h3"/></g>

<g id="n-proline" transform="translate(967,656)"><rect class="box" width="69" height="69"/><text class="t" x="34.5" y="7">Proline</text><path class="gr" d="M32.7,14.5V42M47.3,14.5V42M61,14.5V42M30,22.3H66"/><path class="ax" d="M30,14.5V42H66"/><text class="tk ty" x="28.5" y="25.2">250</text><text class="tk ty" x="28.5" y="44.6">0</text><text class="tk tx" x="32.7" y="50.5">0</text><text class="tk tx" x="47.3" y="50.5">5</text><text class="tk tx" x="61" y="50.5">10</text><text class="dl" x="48" y="62.5">day</text><text class="yl" transform="translate(13.2,30) rotate(-90)">Relative leve</text><polyline class="k" points="32.7,29 47.3,22.3 63.3,27.3"/><polyline class="r" points="32.7,33.3 47.3,20.7 63.3,30"/><path class="er" d="M47.3,16.5V26M45.8,16.5h3M45.8,26h3M63.3,25.5V35M61.8,25.5h3M61.8,35h3M32.7,30.5V35.5M31.2,30.5h3M31.2,35.5h3"/><path class="ek" d="M32.7,26V32M31.2,26h3M31.2,32h3"/></g>

<g id="n-citrulline" transform="translate(871,763)"><rect class="box" width="69" height="69"/><text class="t" x="34.5" y="7">Citrulline</text><path class="gr" d="M29.3,14.5V42M45,14.5V42M60.5,14.5V42M26,25H66"/><path class="ax" d="M26,14.5V42H66"/><text class="tk ty" x="24.5" y="27.9">10</text><text class="tk ty" x="24.5" y="44.6">0</text><text class="tk tx" x="29.3" y="50.5">0</text><text class="tk tx" x="45" y="50.5">5</text><text class="tk tx" x="60.5" y="50.5">10</text><text class="dl" x="46" y="62.5">day</text><text class="yl" transform="translate(13.6,30) rotate(-90)">Relative leve</text><polyline class="k" points="29.3,39.3 45,39.3 63.3,36"/><polyline class="r" points="29.3,34 45,19.3 63.3,36"/><path class="er" d="M45,16V23M43.5,16h3M43.5,23h3"/></g>

<g id="n-ornithine" transform="translate(967,775)"><rect class="box" width="69" height="23"/><text class="lbl" x="34.5" y="14">Ornithine</text></g>

<g id="n-4aminobutanoic" transform="translate(871,856)"><rect class="box" width="69" height="69"/><text class="t" x="34.5" y="7" textLength="63" lengthAdjust="spacingAndGlyphs">4-Aminobutanoic acid</text><path class="gr" d="M31,14.5V42M46,14.5V42M61,14.5V42M28.7,28.7H66"/><path class="ax" d="M28.7,14.5V42H66"/><text class="tk ty" x="27.2" y="31.6">5</text><text class="tk ty" x="27.2" y="44.6">0</text><text class="tk tx" x="31" y="50.5">0</text><text class="tk tx" x="46" y="50.5">5</text><text class="tk tx" x="61" y="50.5">10</text><text class="dl" x="47.4" y="62.5">day</text><text class="yl" transform="translate(20.7,30) rotate(-90)">Relative leve</text><polyline class="k" points="31,28.3 46,38.3 63.3,20.3"/><polyline class="r" points="31,32.7 46,20.3 63.3,18.3"/><path class="ek" d="M63.3,17.5V23M61.8,17.5h3M61.8,23h3"/></g>

<g id="n-putrescine" transform="translate(967,856)"><rect class="box" width="69" height="69"/><text class="t" x="34.5" y="7">putrescine</text><path class="gr" d="M29,14.5V42M45,14.5V42M60.5,14.5V42M26,17.7H66M26,29.3H66"/><path class="ax" d="M26,14.5V42H66"/><text class="tk ty" x="24.5" y="20.6">20</text><text class="tk ty" x="24.5" y="32.2">10</text><text class="tk ty" x="24.5" y="44.6">0</text><text class="tk tx" x="29" y="50.5">0</text><text class="tk tx" x="45" y="50.5">5</text><text class="tk tx" x="60.5" y="50.5">10</text><text class="dl" x="46" y="62.5">day</text><text class="yl" transform="translate(13.6,30) rotate(-90)">Relative leve</text><polyline class="k" points="29,35.3 45,36 63.3,37"/><polyline class="r" points="29,22.7 45,29.3 63.3,18.3"/><path class="er" d="M29,20.5V25M27.5,20.5h3M27.5,25h3"/></g>
</svg>
